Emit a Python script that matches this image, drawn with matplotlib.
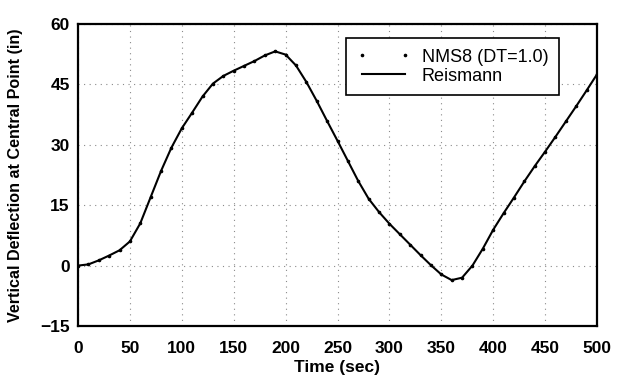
import numpy as np
import matplotlib.pyplot as plt

plt.rcParams['font.family'] = ['Liberation Sans', 'DejaVu Sans']

# time (sec) and vertical deflection (in)
time = [0, 10, 20, 30, 40, 50, 60, 70, 80, 90, 100, 110, 120, 130, 140, 150,
        160, 170, 180, 190, 200, 210, 220, 230, 240, 250, 260, 270, 280, 290,
        300, 310, 320, 330, 340, 350, 360, 370, 380, 390, 400, 410, 420, 430,
        440, 450, 460, 470, 480, 490, 500]
reismann = [0.0, 0.3, 1.3, 2.5, 3.8, 6.0, 10.5, 17.0, 23.5, 29.3, 34.1, 38.0,
            42.0, 45.2, 47.1, 48.4, 49.6, 50.8, 52.2, 53.2, 52.4, 49.7, 45.6,
            40.9, 35.9, 31.0, 26.0, 21.0, 16.6, 13.3, 10.4, 7.8, 5.2, 2.6, 0.1,
            -2.2, -3.6, -3.0, 0.0, 4.2, 8.9, 13.0, 16.9, 20.9, 24.7, 28.3,
            32.0, 35.8, 39.6, 43.5, 47.5]
nms8 = [0.0, 0.3, 1.3, 2.5, 3.8, 6.0, 10.5, 17.0, 23.5, 29.3, 34.1, 38.0,
        42.0, 45.2, 47.1, 48.4, 49.6, 50.8, 52.2, 53.2, 52.4, 49.7, 45.6,
        40.9, 35.9, 31.0, 26.0, 21.0, 16.6, 13.3, 10.4, 7.8, 5.2, 2.6, 0.1,
        -2.2, -3.6, -3.0, 0.0, 4.2, 8.9, 13.0, 16.9, 20.9, 24.7, 28.3,
        32.0, 35.8, 39.6, 43.5, 47.5]
xticks = [0, 50, 100, 150, 200, 250, 300, 350, 400, 450, 500]
yticks = [-15, 0, 15, 30, 45, 60]

fig = plt.figure(figsize=(6.19, 3.81), dpi=100)
ax = fig.add_axes([78 / 619, 1 - 326 / 381, 519 / 619, 302 / 381])

ax.plot(time, nms8, linestyle='none', marker='o', markersize=1.6,
        color='black', label='NMS8 (DT=1.0)')
ax.plot(time, reismann, color='black', linewidth=1.5, label='Reismann')

ax.set_xlim(0, 500)
ax.set_ylim(-15, 60)
ax.set_xticks(xticks)
ax.set_yticks(yticks)
ax.grid(True, linestyle=(0, (1, 4)), color='#8a8a8a', linewidth=0.8)
ax.tick_params(axis='x', length=0, labelsize=12.5, pad=11)
ax.tick_params(axis='y', length=0, labelsize=12.5, pad=6)
for lab in ax.get_xticklabels() + ax.get_yticklabels():
    lab.set_fontweight('bold')
for s in ax.spines.values():
    s.set_linewidth(1.6)

ax.set_xlabel('Time (sec)', fontsize=12.5, fontweight='bold', labelpad=3)
ax.set_ylabel('Vertical Deflection at Central Point (in)', fontsize=11.6,
              fontweight='bold', labelpad=12)

leg = ax.legend(loc='upper right', bbox_to_anchor=(0.927, 0.954), fontsize=13,
                frameon=True, fancybox=False, edgecolor='black',
                borderaxespad=0, handlelength=3.0, numpoints=2,
                borderpad=0.6, labelspacing=0.1, handletextpad=0.6)
leg.get_frame().set_linewidth(1.2)
leg.get_frame().set_alpha(1)

fig.savefig('out.png', dpi=100)
